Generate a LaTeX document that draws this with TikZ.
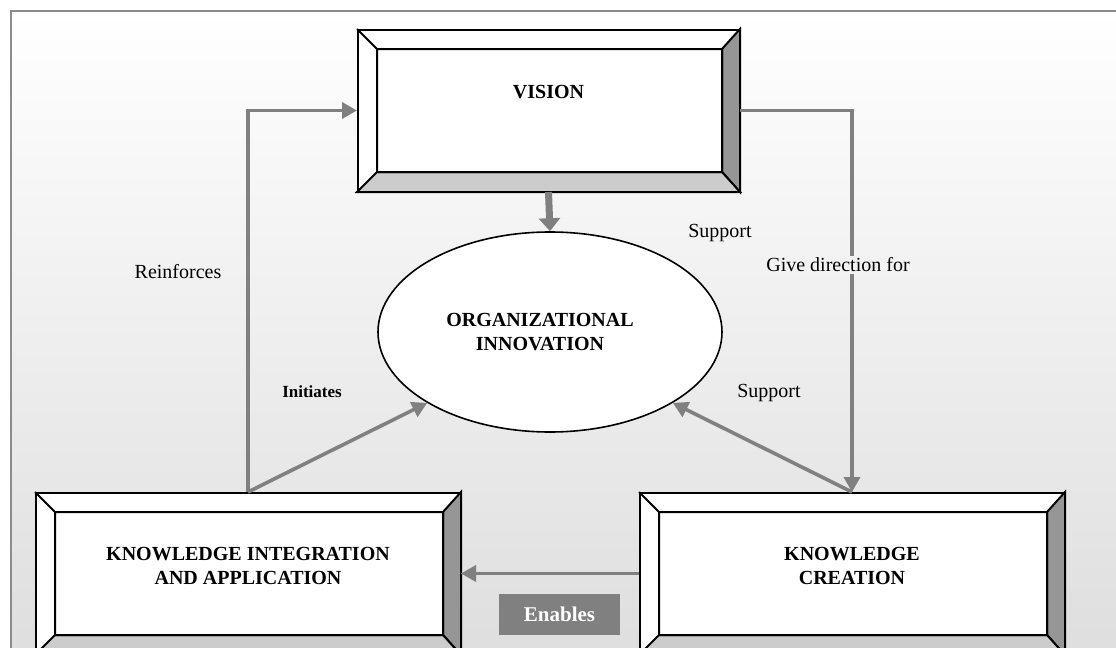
\documentclass[tikz,border=0pt]{standalone}
\usepackage{fontspec}
\setmainfont{Liberation Serif}
\usepackage{tikz}
\usetikzlibrary{arrows.meta,calc,shapes.geometric}
\usepackage{xcolor}
\definecolor{arrowgray}{RGB}{128,128,128}
\definecolor{framegray}{RGB}{140,140,140}
\definecolor{bevelright}{RGB}{150,150,150}
\definecolor{bevelbottom}{RGB}{204,204,204}

\tikzset{
  bevelnode/.style={draw=black,line width=1pt,fill=white,rectangle,inner sep=0pt,
    font=\fontsize{10}{12}\selectfont\bfseries,align=center},
  flow/.style={draw=arrowgray,line width=1.8pt,-{Triangle[length=7.5pt,width=8pt]}},
  bigflow/.style={draw=arrowgray,line width=3.5pt,-{Triangle[length=6.5pt,width=10.5pt]}},
  tag/.style={font=\fontsize{10}{12}\selectfont,inner sep=1pt},
}

\newcommand{\bevelframe}[1]{%
  \coordinate (#1-a) at ($(#1.north west)+(10pt,-10pt)$);
  \coordinate (#1-b) at ($(#1.north east)+(-9pt,-10pt)$);
  \coordinate (#1-c) at ($(#1.south east)+(-9pt,10pt)$);
  \coordinate (#1-d) at ($(#1.south west)+(10pt,10pt)$);
  \filldraw[line width=1pt,fill=bevelright] (#1.north east) -- (#1.south east) -- (#1-c) -- (#1-b) -- cycle;
  \filldraw[line width=1pt,fill=bevelbottom] (#1.south west) -- (#1.south east) -- (#1-c) -- (#1-d) -- cycle;
  \draw[line width=1pt] (#1.north west) -- (#1-a) (#1-a) rectangle (#1-c);
}

\begin{document}
\begin{tikzpicture}[x=0.5pt,y=-0.5pt]
  \useasboundingbox (0,0) rectangle (1116,648);
  \clip (0,0) rectangle (1116,648);
  \shade[top color=white,bottom color=black!13] (11,11) rectangle (1130,660);
  \draw[framegray,line width=1.2pt] (11,660) -- (11,11) -- (1130,11);

  \node[bevelnode,minimum width=190.5pt,minimum height=80.5pt,
    label={[yshift=9pt,font=\fontsize{10}{12}\selectfont\bfseries]center:VISION}] (vision) at (548.5,110.5) {};
  \bevelframe{vision}

  \node[bevelnode,minimum width=212pt,minimum height=80.5pt,
    label={[yshift=4pt,font=\fontsize{10}{12}\selectfont\bfseries,align=center]center:KNOWLEDGE INTEGRATION\\AND APPLICATION}] (kia) at (248,573.5) {};
  \bevelframe{kia}

  \node[bevelnode,minimum width=212pt,minimum height=80.5pt,
    label={[yshift=4pt,font=\fontsize{10}{12}\selectfont\bfseries,align=center]center:KNOWLEDGE\\CREATION}] (kc) at (852,573.5) {};
  \bevelframe{kc}

  \node[ellipse,draw=black,line width=0.8pt,fill=white,inner sep=0pt,
    minimum width=172pt,minimum height=100pt,
    label={[xshift=-5pt,font=\fontsize{10}{12}\selectfont\bfseries,align=center]center:ORGANIZATIONAL\\INNOVATION}] (org) at (550,332) {};

  \draw[bigflow] (vision.south) -- (org.north);
  \draw[flow] (kia.north) |- (vision.west);
  \draw[flow] (vision.east) -| (kc.north);
  \draw[flow] (kia.north) -- (org.210);
  \draw[flow] (kc.north) -- (org.330);
  \draw[flow] (kc.west) -- (kia.east);

  \node[rectangle,fill=arrowgray,minimum width=60.5pt,minimum height=20.5pt,inner sep=0pt,
    text=white,font=\fontsize{10.5}{12}\selectfont\bfseries] (enables) at (559.5,614.5) {Enables};

  \node[tag] (reinforces) at (178,272) {Reinforces};
  \node[tag] (supporttop) at (720,233) {Support};
  \node[tag,fill=black!5] (direction) at (838,265) {Give direction for};
  \node[tag,font=\fontsize{8.5}{10}\selectfont\bfseries] (initiates) at (312,392) {Initiates};
  \node[tag] (supportlow) at (769,393) {Support};
\end{tikzpicture}
\end{document}
